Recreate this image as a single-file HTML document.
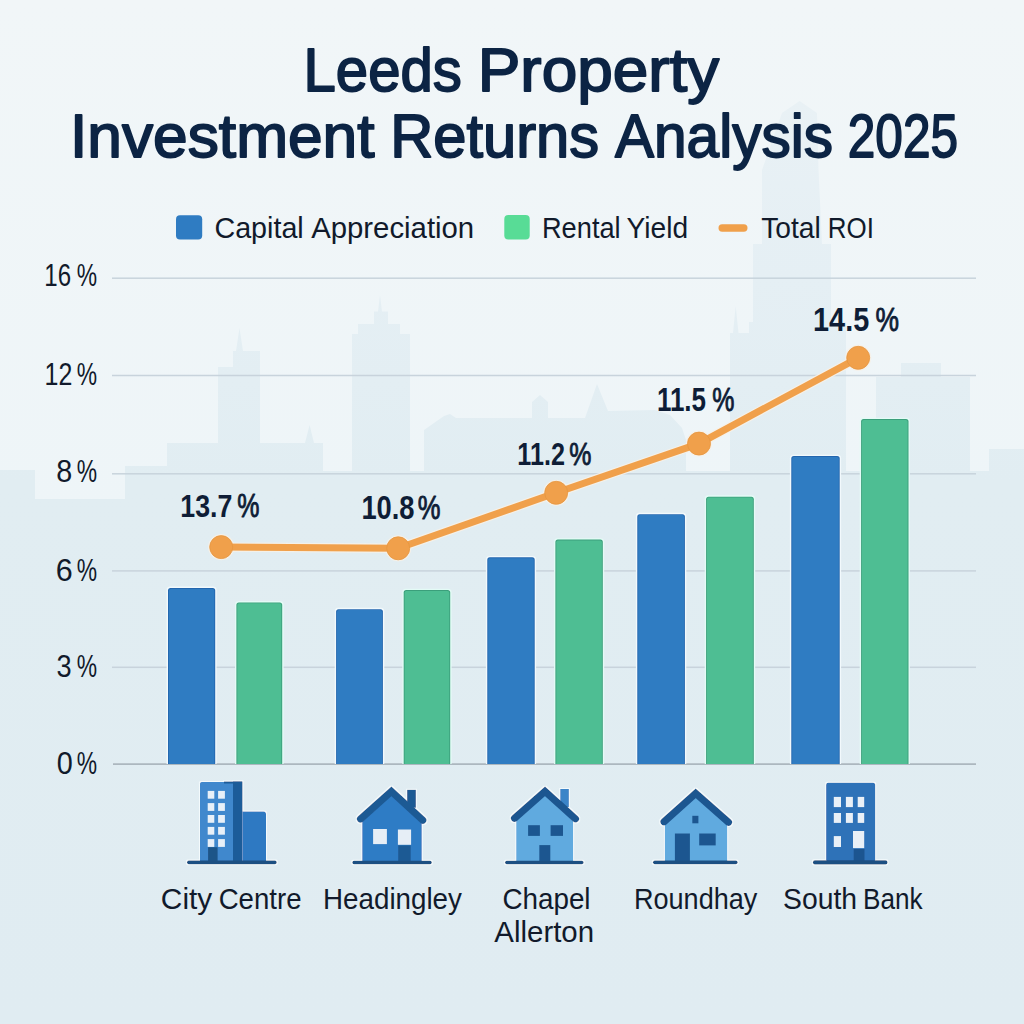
<!DOCTYPE html>
<html><head><meta charset="utf-8"><style>
html,body{margin:0;padding:0;width:1024px;height:1024px;overflow:hidden;background:#eef3f6;}
svg{display:block;font-family:"Liberation Sans",sans-serif;}
</style></head><body>
<svg width="1024" height="1024" viewBox="0 0 1024 1024">
<defs>
<linearGradient id="bg" x1="0" y1="0" x2="0" y2="1024" gradientUnits="userSpaceOnUse">
<stop offset="0" stop-color="#f1f6f8"/>
<stop offset="0.5" stop-color="#eef5f8"/>
<stop offset="1" stop-color="#ebf3f6"/>
</linearGradient>
<linearGradient id="sk" x1="0" y1="90" x2="0" y2="1024" gradientUnits="userSpaceOnUse">
<stop offset="0" stop-color="#e9f1f5"/>
<stop offset="0.2" stop-color="#e5eff4"/>
<stop offset="0.42" stop-color="#e1edf2"/>
<stop offset="1" stop-color="#e0ecf2"/>
</linearGradient>
<filter id="halo" x="-10%" y="-10%" width="120%" height="120%">
<feMorphology in="SourceAlpha" operator="dilate" radius="1.2" result="d"/>
<feFlood flood-color="#f4fafc"/>
<feComposite in2="d" operator="in"/>
<feMerge><feMergeNode/><feMergeNode in="SourceGraphic"/></feMerge>
</filter>
</defs>
<rect width="1024" height="1024" fill="url(#bg)"/>
<path d="M0,470 L35,470 L35,499 L125,499 L125,466 L167,466 L167,443 L218,443 L218,367 L233,367 L233,351 L236,351 L239.5,328 L243,351 L260,351 L260,443 L305,443 L309.6,425 L314,443 L323,443 L323,471 L352,471 L352,334 L358,334 L358,324 L374,324 L374,311.5 L378,311.5 L380,295 L382,311.5 L388,311.5 L388,324 L400,324 L400,334 L410,334 L410,471 L424,471 L424,430 L444,416 L450,414 L456,418 L532,418 L532,402 L540,395 L548,402 L548,418 L585,418 L597,384 L608,411 L655,410 L670,415 L682,428 L686,440 L686,471 L730,471 L730,333 L733,333 L735.7,306 L738.5,333 L749,333 L749,322 L753,322 L753,244 L762,244 L762,170 L782,113 L799.6,101 L817,113 L818.5,170 L822,244 L831,244 L831,322 L846,322 L846,471 L876,471 L876,377 L901,377 L901,363 L941,363 L941,377 L970,377 L970,471 L989,471 L989,449 L1024,449 L1024,1024 L0,1024 Z" fill="url(#sk)"/>
<rect x="112" y="277.45" width="864" height="1.5" fill="#c8d3dc"/>
<rect x="112" y="374.75" width="864" height="1.5" fill="#c8d3dc"/>
<rect x="112" y="473.05" width="864" height="1.5" fill="#c8d3dc"/>
<rect x="112" y="570.15" width="864" height="1.5" fill="#c8d3dc"/>
<rect x="112" y="666.55" width="864" height="1.5" fill="#c8d3dc"/>
<rect x="113" y="763.4" width="863" height="1.4" fill="#a0aab2"/>
<path d="M166.60,764 V590.20 Q166.60,586.60 170.20,586.60 H213.00 Q216.60,586.60 216.60,590.20 V764 Z" fill="#f2f9fc"/>
<path d="M168.00,764 V590.50 Q168.00,588.00 170.50,588.00 H212.70 Q215.20,588.00 215.20,590.50 V764 Z" fill="#2366ae"/>
<path d="M168.90,764 V590.70 Q168.90,588.90 170.70,588.90 H212.50 Q214.30,588.90 214.30,590.70 V764 Z" fill="#2f7cc2"/>
<path d="M235.00,764 V604.60 Q235.00,601.00 238.60,601.00 H280.00 Q283.60,601.00 283.60,604.60 V764 Z" fill="#e4fbf6"/>
<path d="M236.40,764 V604.90 Q236.40,602.40 238.90,602.40 H279.70 Q282.20,602.40 282.20,604.90 V764 Z" fill="#3b9f7b"/>
<path d="M237.30,764 V605.10 Q237.30,603.30 239.10,603.30 H279.50 Q281.30,603.30 281.30,605.10 V764 Z" fill="#4ebe93"/>
<path d="M334.70,764 V611.40 Q334.70,607.80 338.30,607.80 H380.70 Q384.30,607.80 384.30,611.40 V764 Z" fill="#f2f9fc"/>
<path d="M336.10,764 V611.70 Q336.10,609.20 338.60,609.20 H380.40 Q382.90,609.20 382.90,611.70 V764 Z" fill="#2366ae"/>
<path d="M337.00,764 V611.90 Q337.00,610.10 338.80,610.10 H380.20 Q382.00,610.10 382.00,611.90 V764 Z" fill="#2f7cc2"/>
<path d="M402.30,764 V592.30 Q402.30,588.70 405.90,588.70 H448.00 Q451.60,588.70 451.60,592.30 V764 Z" fill="#e4fbf6"/>
<path d="M403.70,764 V592.60 Q403.70,590.10 406.20,590.10 H447.70 Q450.20,590.10 450.20,592.60 V764 Z" fill="#3b9f7b"/>
<path d="M404.60,764 V592.80 Q404.60,591.00 406.40,591.00 H447.50 Q449.30,591.00 449.30,592.80 V764 Z" fill="#4ebe93"/>
<path d="M485.90,764 V559.50 Q485.90,555.90 489.50,555.90 H532.50 Q536.10,555.90 536.10,559.50 V764 Z" fill="#f2f9fc"/>
<path d="M487.30,764 V559.80 Q487.30,557.30 489.80,557.30 H532.20 Q534.70,557.30 534.70,559.80 V764 Z" fill="#2366ae"/>
<path d="M488.20,764 V560.00 Q488.20,558.20 490.00,558.20 H532.00 Q533.80,558.20 533.80,560.00 V764 Z" fill="#2f7cc2"/>
<path d="M554.00,764 V541.80 Q554.00,538.20 557.60,538.20 H600.60 Q604.20,538.20 604.20,541.80 V764 Z" fill="#e4fbf6"/>
<path d="M555.40,764 V542.10 Q555.40,539.60 557.90,539.60 H600.30 Q602.80,539.60 602.80,542.10 V764 Z" fill="#3b9f7b"/>
<path d="M556.30,764 V542.30 Q556.30,540.50 558.10,540.50 H600.10 Q601.90,540.50 601.90,542.30 V764 Z" fill="#4ebe93"/>
<path d="M635.90,764 V516.40 Q635.90,512.80 639.50,512.80 H682.70 Q686.30,512.80 686.30,516.40 V764 Z" fill="#f2f9fc"/>
<path d="M637.30,764 V516.70 Q637.30,514.20 639.80,514.20 H682.40 Q684.90,514.20 684.90,516.70 V764 Z" fill="#2366ae"/>
<path d="M638.20,764 V516.90 Q638.20,515.10 640.00,515.10 H682.20 Q684.00,515.10 684.00,516.90 V764 Z" fill="#2f7cc2"/>
<path d="M704.70,764 V498.90 Q704.70,495.30 708.30,495.30 H751.60 Q755.20,495.30 755.20,498.90 V764 Z" fill="#e4fbf6"/>
<path d="M706.10,764 V499.20 Q706.10,496.70 708.60,496.70 H751.30 Q753.80,496.70 753.80,499.20 V764 Z" fill="#3b9f7b"/>
<path d="M707.00,764 V499.40 Q707.00,497.60 708.80,497.60 H751.10 Q752.90,497.60 752.90,499.40 V764 Z" fill="#4ebe93"/>
<path d="M789.90,764 V458.30 Q789.90,454.70 793.50,454.70 H837.50 Q841.10,454.70 841.10,458.30 V764 Z" fill="#f2f9fc"/>
<path d="M791.30,764 V458.60 Q791.30,456.10 793.80,456.10 H837.20 Q839.70,456.10 839.70,458.60 V764 Z" fill="#2366ae"/>
<path d="M792.20,764 V458.80 Q792.20,457.00 794.00,457.00 H837.00 Q838.80,457.00 838.80,458.80 V764 Z" fill="#2f7cc2"/>
<path d="M859.70,764 V421.30 Q859.70,417.70 863.30,417.70 H906.30 Q909.90,417.70 909.90,421.30 V764 Z" fill="#e4fbf6"/>
<path d="M861.10,764 V421.60 Q861.10,419.10 863.60,419.10 H906.00 Q908.50,419.10 908.50,421.60 V764 Z" fill="#3b9f7b"/>
<path d="M862.00,764 V421.80 Q862.00,420.00 863.80,420.00 H905.80 Q907.60,420.00 907.60,421.80 V764 Z" fill="#4ebe93"/>
<path d="M221.2,547.1 L398.2,548.3 L556.2,492.8 L699,443.6 L858.2,357.8" fill="none" stroke="#f6f1e8" stroke-width="9.4" stroke-linejoin="round" opacity="0.9"/>
<circle cx="221.2" cy="547.1" r="13.1" fill="#f6f1e8" opacity="0.9"/>
<circle cx="398.2" cy="548.3" r="13.1" fill="#f6f1e8" opacity="0.9"/>
<circle cx="556.2" cy="492.8" r="13.1" fill="#f6f1e8" opacity="0.9"/>
<circle cx="699" cy="443.6" r="13.1" fill="#f6f1e8" opacity="0.9"/>
<circle cx="858.2" cy="357.8" r="13.1" fill="#f6f1e8" opacity="0.9"/>
<path d="M221.2,547.1 L398.2,548.3 L556.2,492.8 L699,443.6 L858.2,357.8" fill="none" stroke="#f0a04b" stroke-width="7" stroke-linejoin="round"/>
<circle cx="221.2" cy="547.1" r="11.5" fill="#f0a04b" stroke="#e6963f" stroke-width="0.8"/>
<circle cx="398.2" cy="548.3" r="11.5" fill="#f0a04b" stroke="#e6963f" stroke-width="0.8"/>
<circle cx="556.2" cy="492.8" r="11.5" fill="#f0a04b" stroke="#e6963f" stroke-width="0.8"/>
<circle cx="699" cy="443.6" r="11.5" fill="#f0a04b" stroke="#e6963f" stroke-width="0.8"/>
<circle cx="858.2" cy="357.8" r="11.5" fill="#f0a04b" stroke="#e6963f" stroke-width="0.8"/>
<rect x="176" y="215.2" width="26.2" height="24.2" rx="4" fill="#2f7cc2"/>
<rect x="504.3" y="215.1" width="25.4" height="24.3" rx="4" fill="#58dc96"/>
<rect x="718.5" y="224.3" width="29" height="7.4" rx="3.7" fill="#f0a04b"/>
<g font-family="Liberation Sans">
<text x="303.54" y="90.70" font-size="60.32" font-weight="normal" textLength="158.26" lengthAdjust="spacingAndGlyphs" fill="#0c2444" stroke="#0c2444" stroke-width="1.8" stroke-linejoin="round">Leeds</text>
<text x="477.76" y="90.70" font-size="60.32" font-weight="normal" textLength="241.47" lengthAdjust="spacingAndGlyphs" fill="#0c2444" stroke="#0c2444" stroke-width="1.8" stroke-linejoin="round">Property</text>
<text x="70.05" y="156.80" font-size="60.61" font-weight="normal" textLength="304.50" lengthAdjust="spacingAndGlyphs" fill="#0c2444" stroke="#0c2444" stroke-width="1.8" stroke-linejoin="round">Investment</text>
<text x="390.21" y="156.80" font-size="60.61" font-weight="normal" textLength="208.85" lengthAdjust="spacingAndGlyphs" fill="#0c2444" stroke="#0c2444" stroke-width="1.8" stroke-linejoin="round">Returns</text>
<text x="614.99" y="156.80" font-size="60.61" font-weight="normal" textLength="218.03" lengthAdjust="spacingAndGlyphs" fill="#0c2444" stroke="#0c2444" stroke-width="1.8" stroke-linejoin="round">Analysis</text>
<text x="847.81" y="156.80" font-size="60.61" font-weight="normal" textLength="110.17" lengthAdjust="spacingAndGlyphs" fill="#0c2444" stroke="#0c2444" stroke-width="1.8" stroke-linejoin="round">2025</text>
<text x="214.44" y="237.70" font-size="30.23" font-weight="normal" textLength="89.27" lengthAdjust="spacingAndGlyphs" fill="#111a2b">Capital</text>
<text x="311.14" y="237.70" font-size="30.23" font-weight="normal" textLength="163.06" lengthAdjust="spacingAndGlyphs" fill="#111a2b">Appreciation</text>
<text x="541.97" y="237.70" font-size="30.23" font-weight="normal" textLength="78.65" lengthAdjust="spacingAndGlyphs" fill="#111a2b">Rental</text>
<text x="626.59" y="237.70" font-size="30.23" font-weight="normal" textLength="61.59" lengthAdjust="spacingAndGlyphs" fill="#111a2b">Yield</text>
<text x="761.20" y="237.70" font-size="30.23" font-weight="normal" textLength="59.60" lengthAdjust="spacingAndGlyphs" fill="#111a2b">Total</text>
<text x="827.87" y="237.70" font-size="30.23" font-weight="normal" textLength="46.12" lengthAdjust="spacingAndGlyphs" fill="#111a2b">ROI</text>
<text x="44.27" y="286.40" font-size="30.52" font-weight="normal" textLength="26.79" lengthAdjust="spacingAndGlyphs" fill="#111a2b">16</text>
<text x="76.69" y="286.40" font-size="30.69" font-weight="normal" textLength="20.33" lengthAdjust="spacingAndGlyphs" fill="#111a2b">%</text>
<text x="44.50" y="384.70" font-size="30.52" font-weight="normal" textLength="27.76" lengthAdjust="spacingAndGlyphs" fill="#111a2b">12</text>
<text x="76.69" y="384.70" font-size="30.69" font-weight="normal" textLength="20.33" lengthAdjust="spacingAndGlyphs" fill="#111a2b">%</text>
<text x="56.25" y="482.20" font-size="30.52" font-weight="normal" textLength="16.00" lengthAdjust="spacingAndGlyphs" fill="#111a2b">8</text>
<text x="76.69" y="482.20" font-size="30.69" font-weight="normal" textLength="20.33" lengthAdjust="spacingAndGlyphs" fill="#111a2b">%</text>
<text x="55.65" y="581.00" font-size="30.52" font-weight="normal" textLength="16.99" lengthAdjust="spacingAndGlyphs" fill="#111a2b">6</text>
<text x="76.69" y="581.00" font-size="30.69" font-weight="normal" textLength="20.33" lengthAdjust="spacingAndGlyphs" fill="#111a2b">%</text>
<text x="56.46" y="676.90" font-size="30.52" font-weight="normal" textLength="15.13" lengthAdjust="spacingAndGlyphs" fill="#111a2b">3</text>
<text x="76.69" y="676.90" font-size="30.69" font-weight="normal" textLength="20.33" lengthAdjust="spacingAndGlyphs" fill="#111a2b">%</text>
<text x="56.67" y="774.00" font-size="30.52" font-weight="normal" textLength="16.06" lengthAdjust="spacingAndGlyphs" fill="#111a2b">0</text>
<text x="76.69" y="774.00" font-size="30.69" font-weight="normal" textLength="20.33" lengthAdjust="spacingAndGlyphs" fill="#111a2b">%</text>
<text x="180.32" y="516.50" font-size="32.23" font-weight="bold" textLength="52.06" lengthAdjust="spacingAndGlyphs" fill="#0e1d36">13.7</text>
<text x="237.16" y="516.50" font-size="32.42" font-weight="normal" textLength="22.18" lengthAdjust="spacingAndGlyphs" fill="#0e1d36" stroke="#0e1d36" stroke-width="0.9" stroke-linejoin="round">%</text>
<text x="361.38" y="518.80" font-size="32.38" font-weight="bold" textLength="53.16" lengthAdjust="spacingAndGlyphs" fill="#0e1d36">10.8</text>
<text x="417.74" y="518.80" font-size="32.56" font-weight="normal" textLength="22.72" lengthAdjust="spacingAndGlyphs" fill="#0e1d36" stroke="#0e1d36" stroke-width="0.9" stroke-linejoin="round">%</text>
<text x="517.36" y="464.80" font-size="31.81" font-weight="bold" textLength="47.62" lengthAdjust="spacingAndGlyphs" fill="#0e1d36">11.2</text>
<text x="569.36" y="464.80" font-size="31.99" font-weight="normal" textLength="22.18" lengthAdjust="spacingAndGlyphs" fill="#0e1d36" stroke="#0e1d36" stroke-width="0.9" stroke-linejoin="round">%</text>
<text x="656.91" y="411.20" font-size="32.38" font-weight="bold" textLength="49.09" lengthAdjust="spacingAndGlyphs" fill="#0e1d36">11.5</text>
<text x="712.26" y="411.20" font-size="32.56" font-weight="normal" textLength="22.18" lengthAdjust="spacingAndGlyphs" fill="#0e1d36" stroke="#0e1d36" stroke-width="0.9" stroke-linejoin="round">%</text>
<text x="813.08" y="331.30" font-size="33.67" font-weight="bold" textLength="56.12" lengthAdjust="spacingAndGlyphs" fill="#0e1d36">14.5</text>
<text x="875.51" y="331.30" font-size="33.86" font-weight="normal" textLength="23.48" lengthAdjust="spacingAndGlyphs" fill="#0e1d36" stroke="#0e1d36" stroke-width="0.9" stroke-linejoin="round">%</text>
<text x="160.89" y="909.40" font-size="29.65" font-weight="normal" textLength="51.37" lengthAdjust="spacingAndGlyphs" fill="#111a2b">City</text>
<text x="218.70" y="909.40" font-size="29.65" font-weight="normal" textLength="82.83" lengthAdjust="spacingAndGlyphs" fill="#111a2b">Centre</text>
<text x="323.02" y="909.40" font-size="29.65" font-weight="normal" textLength="138.93" lengthAdjust="spacingAndGlyphs" fill="#111a2b">Headingley</text>
<text x="502.39" y="909.30" font-size="29.65" font-weight="normal" textLength="88.17" lengthAdjust="spacingAndGlyphs" fill="#111a2b">Chapel</text>
<text x="494.34" y="942.10" font-size="29.65" font-weight="normal" textLength="99.77" lengthAdjust="spacingAndGlyphs" fill="#111a2b">Allerton</text>
<text x="633.98" y="909.40" font-size="29.65" font-weight="normal" textLength="123.37" lengthAdjust="spacingAndGlyphs" fill="#111a2b">Roundhay</text>
<text x="783.01" y="909.40" font-size="29.65" font-weight="normal" textLength="74.03" lengthAdjust="spacingAndGlyphs" fill="#111a2b">South</text>
<text x="862.95" y="909.40" font-size="29.65" font-weight="normal" textLength="59.61" lengthAdjust="spacingAndGlyphs" fill="#111a2b">Bank</text>
</g>
<g filter="url(#halo)"><rect x="200" y="782" width="34" height="80" rx="1.5" fill="#3f88cd"/>
<rect x="233" y="781.5" width="9.5" height="80.5" fill="#1f5c99"/>
<rect x="224" y="781.5" width="18" height="2" fill="#1f5c99"/>
<path d="M242.3,862 V811.5 H263.5 Q266,811.5 266,814 V862 Z" fill="#2f79c2"/>
<rect x="207.7" y="790.9" width="6.6" height="7.8" fill="#e8f0f8"/>
<rect x="218.1" y="790.9" width="6.8" height="7.8" fill="#e8f0f8"/>
<rect x="207.7" y="803.1" width="6.6" height="7.8" fill="#e8f0f8"/>
<rect x="218.1" y="803.1" width="6.8" height="7.8" fill="#e8f0f8"/>
<rect x="207.7" y="815" width="6.6" height="7.8" fill="#e8f0f8"/>
<rect x="218.1" y="815" width="6.8" height="7.8" fill="#e8f0f8"/>
<rect x="207.7" y="826.9" width="6.6" height="7.8" fill="#e8f0f8"/>
<rect x="218.1" y="826.9" width="6.8" height="7.8" fill="#e8f0f8"/>
<rect x="207.7" y="839.1" width="6.6" height="7.8" fill="#e8f0f8"/>
<rect x="218.1" y="839.1" width="6.8" height="7.8" fill="#e8f0f8"/>
<rect x="208.1" y="847.2" width="9.5" height="15" fill="#1f5488"/>
<rect x="187" y="860.6" width="89.7" height="3.6" rx="1.8" fill="#1d4f82"/>
<rect x="407.1" y="789.8" width="8.8" height="18" fill="#1e5a94"/>
<polygon points="362.2,862 362.2,821 391.4,794.3 421.8,822.2 421.8,862" fill="#2f7bc5"/>
<polyline points="360.5,819 391.4,791.3 422.8,820.2" fill="none" stroke="#1e5a94" stroke-width="7.2" stroke-linecap="round" stroke-linejoin="miter"/>
<rect x="373.1" y="829" width="13.8" height="15.1" fill="#e6eef6"/>
<rect x="397.9" y="829.5" width="13.2" height="15.3" fill="#e6eef6"/>
<rect x="398.2" y="845.4" width="12.5" height="16" fill="#1e5a94"/>
<rect x="352.3" y="860.8" width="79.5" height="3.5" rx="1.75" fill="#1d4f82"/>
<rect x="560.2" y="789" width="8.7" height="18" fill="#3a84c8"/>
<polygon points="516.2,862 516.2,820.3 545,794.3 573.1,820.8 573.1,862" fill="#60aadf"/>
<polyline points="514.5,818.3 545,791.3 575.5,818.8" fill="none" stroke="#1e5690" stroke-width="7.2" stroke-linecap="round" stroke-linejoin="miter"/>
<rect x="528.1" y="825.2" width="11.8" height="10.7" fill="#1e5690"/>
<rect x="550.6" y="825.2" width="12.4" height="10.7" fill="#1e5690"/>
<rect x="539.3" y="845.1" width="11" height="16.5" fill="#1e5690"/>
<rect x="505" y="860.8" width="78.6" height="3.5" rx="1.75" fill="#1d4f82"/>
<polygon points="664.9,862 664.9,823.8 695.7,796.4 727.2,824.3 727.2,862" fill="#60aadf"/>
<polyline points="664,821.8 695.7,793.4 728.5,822.3" fill="none" stroke="#1e5690" stroke-width="7.2" stroke-linecap="round" stroke-linejoin="miter"/>
<rect x="692.3" y="815.8" width="6.1" height="7.5" fill="#1e5690"/>
<rect x="674.9" y="833.5" width="15" height="27.5" fill="#1e5690"/>
<rect x="699.2" y="833.5" width="16.5" height="11.9" fill="#1e5690"/>
<rect x="653" y="860.5" width="84.6" height="3.7" rx="1.85" fill="#1d4f82"/>
<rect x="826.1" y="782.7" width="49.1" height="79" rx="2" fill="#2f72b8"/>
<rect x="833.8" y="796.9" width="7.2" height="10.2" fill="#e9f0f7"/>
<rect x="845.9" y="796.9" width="7" height="10.2" fill="#e9f0f7"/>
<rect x="857.7" y="796.9" width="6.5" height="10.2" fill="#e9f0f7"/>
<rect x="833.8" y="813" width="7.2" height="9.9" fill="#e9f0f7"/>
<rect x="845.9" y="813" width="7" height="9.9" fill="#e9f0f7"/>
<rect x="857.7" y="813" width="6.5" height="9.9" fill="#e9f0f7"/>
<rect x="833.8" y="836.1" width="7.2" height="10.9" fill="#e9f0f7"/>
<rect x="853" y="831" width="11.2" height="17.1" fill="#e9f0f7"/>
<rect x="853.7" y="849" width="10.8" height="12" fill="#1e5590"/>
<rect x="812.9" y="860.2" width="74.6" height="4.2" rx="2" fill="#1d4f82"/></g>
</svg>
</body></html>
